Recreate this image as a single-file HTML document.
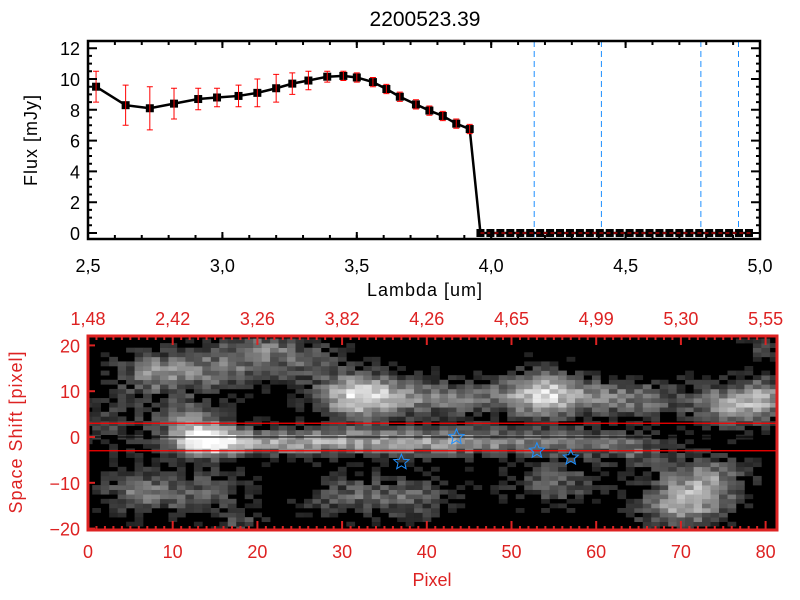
<!DOCTYPE html>
<html><head><meta charset="utf-8"><style>
body{margin:0;background:#fff;}
svg{display:block;font-family:"Liberation Sans",sans-serif;}
</style></head><body>
<svg id="c" width="800" height="600" xmlns="http://www.w3.org/2000/svg">
<rect width="800" height="600" fill="#fff"/>
<text x="425" y="26" font-size="21" text-anchor="middle">2200523.39</text>
<g id="topPlot"></g>
<g id="botPlot"></g>
</svg>
<script>
const lambdas=[2.53,2.64,2.73,2.82,2.91,2.98,3.06,3.13,3.20,3.26,3.32,3.39,3.45,3.50,3.56,3.61,3.66,3.72,3.77,3.82,3.87,3.92];
const flux=[9.5,8.3,8.1,8.4,8.7,8.8,8.9,9.1,9.4,9.7,9.9,10.15,10.2,10.1,9.8,9.35,8.85,8.35,7.95,7.6,7.1,6.75];
const fluxErr=[1.0,1.3,1.4,1.0,0.7,0.6,0.7,0.9,0.9,0.7,0.6,0.35,0.3,0.3,0.3,0.3,0.3,0.3,0.3,0.3,0.3,0.3];
const zeroStart=3.96, zeroEnd=4.99, zeroStep=0.037;
const xTicks=[2.5,3.0,3.5,4.0,4.5,5.0];
const yTicks=[0,2,4,6,8,10,12];
const vLines=[4.16,4.41,4.78,4.92];
const pixTicks=[0,10,20,30,40,50,60,70,80];
const topLabels=["1.48","2.42","3.26","3.82","4.26","4.65","4.99","5.30","5.55"];
const shiftTicks=[20,10,0,-10,-20];
const stars=[[37,-5.5],[43.5,0],[53,-3],[57,-4.5]];
const bands=[3,-3];

const NS="http://www.w3.org/2000/svg";
function mk(p,t,a){const e=document.createElementNS(NS,t);for(const k in a)e.setAttribute(k,a[k]);p.appendChild(e);return e;}
const gTop=document.getElementById('topPlot'), gBot=document.getElementById('botPlot');
const X=l=>88+(l-2.5)*268.8, Y=v=>233-v*15.4;
const FS=18;
vLines.forEach(l=>{const e=mk(gTop,'line',{x1:X(l),x2:X(l),y1:41,y2:239,stroke:'#1e90ff','stroke-dasharray':'6,4','stroke-width':1});

});
const zs=[];for(let l=zeroStart;l<=zeroEnd+1e-9;l+=zeroStep)zs.push(l);
let pts=lambdas.map((l,i)=>X(l)+','+Y(flux[i])).concat(zs.map(l=>X(l)+','+Y(0)));
const ln=mk(gTop,'polyline',{points:pts.join(' '),fill:'none',stroke:'#000','stroke-width':2.5});


lambdas.forEach((l,i)=>{const x=X(l);
const s=mk(gTop,'rect',{x:x-4,y:Y(flux[i])-4,width:8,height:8,fill:'#000'});


const g=mk(gTop,'path',{d:`M${x},${Y(flux[i]+fluxErr[i])}V${Y(flux[i]-fluxErr[i])}M${x-3},${Y(flux[i]+fluxErr[i])}h6M${x-3},${Y(flux[i]-fluxErr[i])}h6`,stroke:'#f00','stroke-width':1,fill:'none'});

});
zs.forEach(l=>{const s=mk(gTop,'rect',{x:X(l)-4,y:Y(0)-4,width:8,height:8,fill:'#000'});

});
mk(gTop,'line',{x1:X(zeroStart),x2:760,y1:Y(0),y2:Y(0),stroke:'#f00','stroke-dasharray':'4,3'});
mk(gTop,'rect',{x:88,y:41,width:672,height:198,fill:'none',stroke:'#000','stroke-width':2.5});
xTicks.forEach(t=>{const x=X(t);mk(gTop,'path',{d:`M${x},239v-7M${x},41v7`,stroke:'#000','stroke-width':2});
const tx=mk(gTop,'text',{x:x,y:272,'font-size':FS,'text-anchor':'middle'});tx.textContent=t.toFixed(1).replace('.',',');

});
for(let t=2.6;t<5;t+=0.1){const x=X(t);mk(gTop,'path',{d:`M${x},239v-4M${x},41v4`,stroke:'#000','stroke-width':2});}
yTicks.forEach(t=>{const y=Y(t);mk(gTop,'path',{d:`M88,${y}h9M760,${y}h-9`,stroke:'#000','stroke-width':2});
const tx=mk(gTop,'text',{x:80,y:y+7,'font-size':FS,'text-anchor':'end'});tx.textContent=t;

});
for(let t=0.5;t<12.4;t+=0.5){if(t%2){const y=Y(t);mk(gTop,'path',{d:`M88,${y}h4M760,${y}h-4`,stroke:'#000','stroke-width':2});}}
let t1=mk(gTop,'text',{x:425,y:296,'font-size':FS,'text-anchor':'middle','letter-spacing':'1'});t1.textContent='Lambda [um]';

let t2=mk(gTop,'text',{x:37,y:140,'font-size':FS,'text-anchor':'middle','letter-spacing':'1',transform:'rotate(-90 37 140)'});t2.textContent='Flux [mJy]';


const PX=p=>88+p*8.47, SY=s=>437-s*4.58;
const blobs=[[14,-1,0.9,3,2.5],[22,-1,0.55,6,2.2],[35,-1,0.5,8,2.2],[48,-1,0.45,8,2.2],[60,-1,0.3,5,2.2],[12,4,0.45,3,3],
[32,9,0.85,3.5,3.5],[42,8.5,0.5,6,3],[54,9.5,0.8,3.5,3.5],[64,8.5,0.5,5,3],[76,7,0.6,3.5,3.5],[80,9,0.45,2,3],
[8,14,0.55,3.5,3.5],[16,15,0.45,4,3.5],[25,17,0.35,4,3.5],[6,-12,0.45,3.5,3.5],[14,-12,0.35,4,3.5],[30,-13,0.35,3.5,3.5],[38,-13,0.4,4,3.5],
[55,-10,0.4,4,3.5],[70,-15,0.65,4,3.5],[73,-9,0.55,3.5,3.5],[3,3,0.3,3,4],[20,20,0.3,3,2],[80,20,0.3,2,2],[65,-4,0.3,3,2.5],[18,-19,0.3,2,2]];
let seed=7;const rnd=()=>{seed=(seed*16807)%2147483647;return seed/2147483647;};
mk(gBot,'rect',{x:88,y:336,width:689,height:194,fill:'#000'});
const gImg=mk(gBot,'g',{});


for(let p=0;p<82;p++)for(let s=-21;s<=21;s++){
 let v=0;blobs.forEach(b=>{v+=b[2]*Math.exp(-((p-b[0])**2)/(2*b[3]*b[3])-((s-b[1])**2)/(2*b[4]*b[4]));});
 v+=(rnd()-0.5)*0.3-0.05; v=Math.max(0,Math.min(1,v));
 const c=Math.round(v*255);
 if(c<35)continue;
 const x0=Math.max(88,PX(p-0.5)),x1=Math.min(777,PX(p+0.5)),y0=Math.max(336,SY(s+0.5)),y1=Math.min(530,SY(s-0.5));
 if(x1<=x0||y1<=y0)continue;
 mk(gImg,'rect',{x:x0,y:y0,width:x1-x0+0.3,height:y1-y0+0.3,fill:`rgb(${c},${c},${c})`});
}
bands.forEach(b=>{const e=mk(gBot,'line',{x1:88,x2:777,y1:SY(b),y2:SY(b),stroke:'#f00','stroke-width':1.2});
});
mk(gBot,'line',{x1:88,x2:777,y1:SY(0),y2:SY(0),stroke:'#000','stroke-width':1});
function starPath(cx,cy,r){let d='';for(let i=0;i<10;i++){const a=-Math.PI/2+i*Math.PI/5,rr=i%2?r*0.45:r;d+=(i?'L':'M')+(cx+rr*Math.cos(a)).toFixed(1)+','+(cy+rr*Math.sin(a)).toFixed(1);}return d+'Z';}
stars.forEach(s=>{const e=mk(gBot,'path',{d:starPath(PX(s[0]),SY(s[1]),8),fill:'none',stroke:'#1e90ff','stroke-width':1});
});
mk(gBot,'rect',{x:88,y:336,width:689,height:194,fill:'none',stroke:'#d22','stroke-width':3});
const red='#d22';
pixTicks.forEach((t,i)=>{const x=PX(t);mk(gBot,'path',{d:`M${x},530v-9M${x},336v9`,stroke:red,'stroke-width':2});
const a=mk(gBot,'text',{x:x,y:558,'font-size':FS,'text-anchor':'middle',fill:red});a.textContent=t;

const b=mk(gBot,'text',{x:x,y:325,'font-size':FS,'text-anchor':'middle',fill:red});b.textContent=topLabels[i].replace('.',',');
});
for(let t=1;t<81;t++){if(t%10){const x=PX(t);mk(gBot,'path',{d:`M${x},530v-4M${x},336v4`,stroke:red,'stroke-width':2});}}
shiftTicks.forEach(t=>{const y=SY(t);mk(gBot,'path',{d:`M88,${y}h7`,stroke:red,'stroke-width':2});
const a=mk(gBot,'text',{x:80,y:y+7,'font-size':FS,'text-anchor':'end',fill:red});a.textContent=(t<0?'−':'')+Math.abs(t);
});
let t3=mk(gBot,'text',{x:432,y:586,'font-size':FS,'text-anchor':'middle',fill:red});t3.textContent='Pixel';

let t4=mk(gBot,'text',{x:22,y:432,'font-size':FS,'text-anchor':'middle','letter-spacing':'1',fill:red,transform:'rotate(-90 22 432)'});t4.textContent='Space Shift [pixel]';

</script>
</body></html>
